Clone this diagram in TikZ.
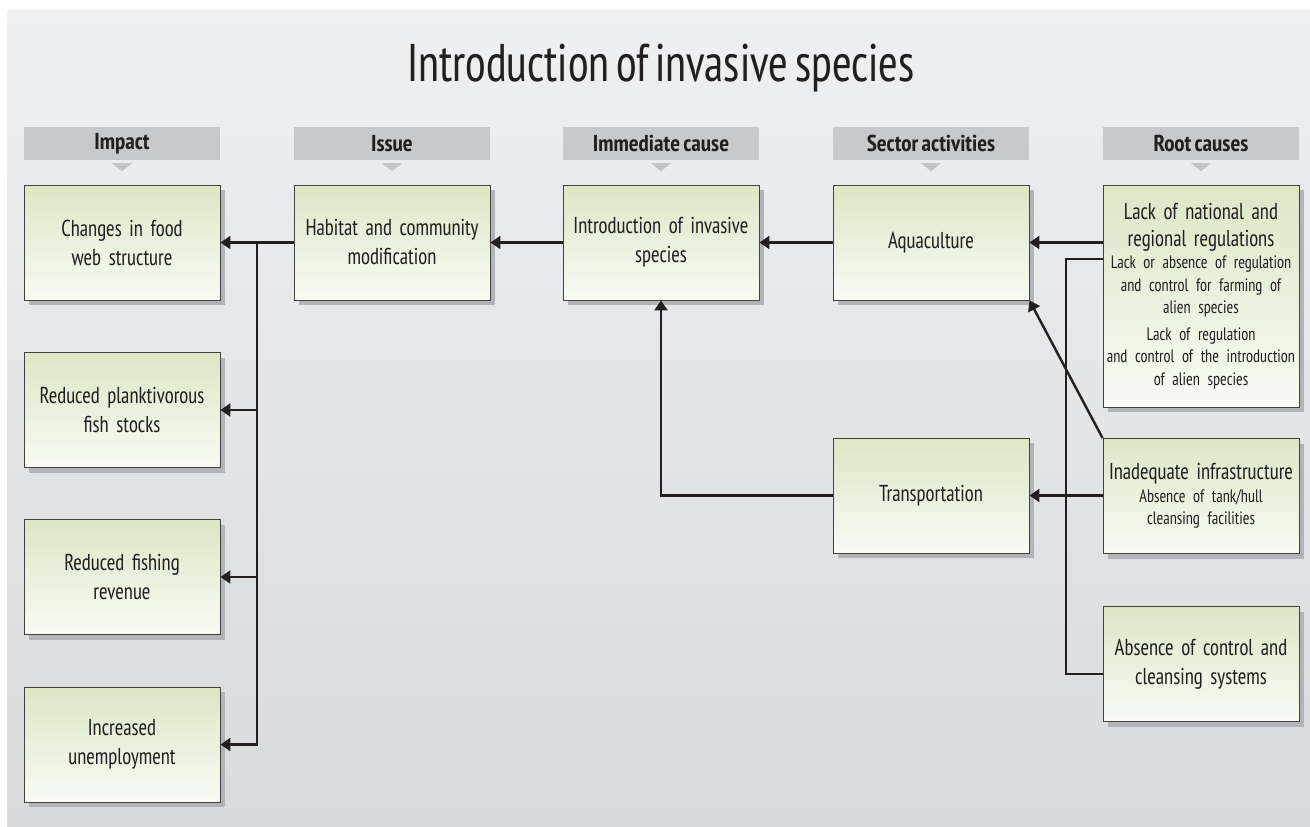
\documentclass[tikz,border=0pt]{standalone}
\usepackage{fontspec}
\setmainfont{PT Sans Narrow}[FakeStretch=0.9, WordSpace=0.65]
\newfontfamily\hdrfont{PT Sans Narrow}[WordSpace=0.7]
\usetikzlibrary{arrows.meta,shadows}
\hyphenpenalty=10000
\exhyphenpenalty=10000
\definecolor{ink}{HTML}{231F20}
\definecolor{hdrgrey}{HTML}{C8C9CB}
\definecolor{trigrey}{HTML}{C3C4C6}
\definecolor{boxtop}{HTML}{DCE7C6}
\definecolor{boxbot}{HTML}{F9FBF5}
\definecolor{shad}{HTML}{B3B4B7}
\definecolor{bgtop}{HTML}{EFF0F1}
\definecolor{bgbot}{HTML}{D9DADC}
\tikzset{
  box/.style={draw=ink!85, line width=0.9pt, top color=boxtop, bottom color=boxbot,
    minimum width=196pt, minimum height=115pt, text width=194pt, align=center,
    inner sep=0pt, text=ink, font=\fontsize{23}{29}\selectfont,
    drop shadow={shadow xshift=5pt, shadow yshift=-5pt, fill=shad, opacity=1}},
  hdr/.style={fill=hdrgrey, minimum width=196pt, minimum height=33pt, inner sep=0pt,
    text=ink, font=\hdrfont\bfseries\fontsize{23}{26}\selectfont},
  tri/.style={fill=trigrey},
  conn/.style={draw=ink, line width=2.4pt},
  arr/.style={conn, -{Triangle[length=10pt,width=13pt]}},
}
\begin{document}
\begin{tikzpicture}[x=1pt,y=-1pt]
\useasboundingbox (0,0) rectangle (1310,827);
\fill[white] (0,0) rectangle (1310,827);
\shade[top color=bgtop, bottom color=bgbot] (7,10) rectangle (1310,827);

\node[text=ink, font=\fontsize{53}{60}\selectfont, anchor=base] (title) at (661,81) {Introduction of invasive species};

% headers
\foreach \nm/\cx/\tx in {h1/122/Impact, h2/392/Issue, h3/661/Immediate cause, h4/931/Sector activities, h5/1201/Root causes}{
  \node[hdr] (\nm) at (\cx,143.5) {\tx};
  \fill[tri] ([yshift=-3pt]\nm.south) ++(-10,0) -- ++(20,0) -- ++(-10,8) -- cycle;
}

% boxes
\node[box] (chg) at (122,242.5) {Changes in food\\web structure};
\node[box] (rpf) at (122,410) {Reduced planktivorous\\fish stocks};
\node[box] (rfr) at (122,577) {Reduced fishing\\revenue};
\node[box] (inc) at (122,744.5) {Increased\\unemployment};
\node[box] (hab) at (392,242.5) {Habitat and community\\modification};
\node[box] (intro) at (661,242.5) {Introduction of invasive\\species};
\node[box] (aqua) at (931,242.5) {Aquaculture};
\node[box] (trans) at (931,495.5) {Transportation};
\node[box, minimum height=222pt] (lack) at (1201,296) {%
  {\fontsize{23}{27}\selectfont Lack of national and\\regional regulations\par}%
  {\fontsize{18}{22.5}\selectfont Lack or absence of regulation\\and control for farming of\\alien species\par\vspace{4pt}%
  Lack of regulation\\and control of the introduction\\of alien species\par}};
\node[box] (inad) at (1201,496) {%
  {\fontsize{23}{27}\selectfont Inadequate infrastructure\par}%
  {\fontsize{18}{22.5}\selectfont Absence of tank/hull\\cleansing facilities\par}};
\node[box] (absc) at (1201,664) {Absence of control and\\cleansing systems};

% connectors
\coordinate (j1) at (257,242.5);
\draw[arr] (hab.west) -- (chg.east);
\draw[arr] (j1) |- (inc.east);
\draw[arr] (j1 |- rpf.east) -- (rpf.east);
\draw[arr] (j1 |- rfr.east) -- (rfr.east);
\draw[arr] (intro.west) -- (hab.east);
\draw[arr] (aqua.west) -- (intro.east);
\draw[arr] (lack.west |- aqua.east) -- (aqua.east);
\coordinate (j2) at (1066,259);
\coordinate (j3) at (1066,674);
\draw[conn] (lack.west |- j2) -- (j2) -- (j3) -- (absc.west |- j3);
\draw[arr] (inad.west |- trans.east) -- (trans.east);
\draw[arr] (inad.north west) -- (aqua.south east);
\draw[arr] (trans.west) -| (intro.south);
\end{tikzpicture}
\end{document}
